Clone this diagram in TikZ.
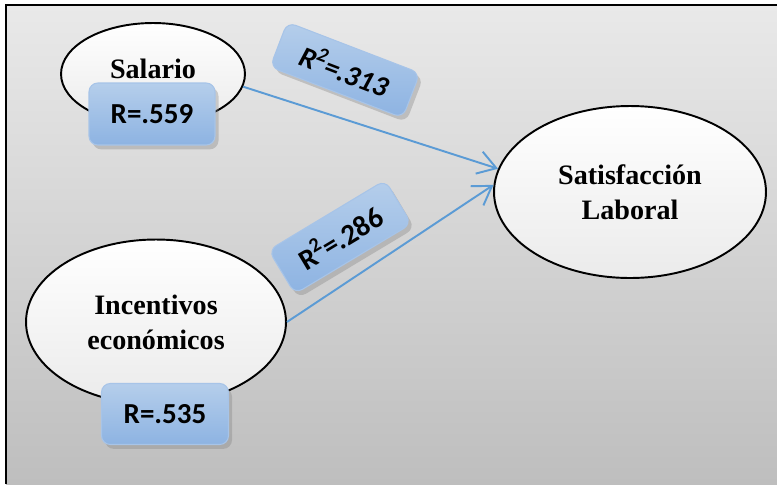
\documentclass[tikz,border=0pt]{standalone}
\usepackage{fontspec}
\setmainfont{Liberation Serif}
\newfontfamily\calibri{Carlito}
\usetikzlibrary{shapes.geometric,arrows.meta,shadows}

\definecolor{boxtop}{HTML}{B5CEEB}
\definecolor{boxbot}{HTML}{8DB3E2}
\definecolor{boxline}{HTML}{A7C4E8}
\definecolor{arrowblue}{HTML}{5B9BD5}
\definecolor{bgtop}{HTML}{E9E9E9}
\definecolor{bgbot}{HTML}{BEBEBE}

\tikzset{
  var/.style={ellipse,draw,line width=1.1pt,inner sep=0pt,align=center,
    top color=white,bottom color=black!8,
    font=\fontsize{16}{20}\selectfont\bfseries},
  coef/.style={rectangle,rounded corners=5pt,draw=boxline,line width=.6pt,
    top color=boxtop,bottom color=boxbot,inner sep=0pt,
    drop shadow={opacity=.35,shadow xshift=2pt,shadow yshift=-2.5pt},
    font=\calibri\fontsize{16.5}{20}\selectfont\bfseries}
}
\newcommand{\rsq}{R\textsuperscript{\kern-.5pt 2}}

\begin{document}
\begin{tikzpicture}[x=0.02cm,y=-0.02cm]

      \useasboundingbox (0,0) rectangle (777,484);
      \shade[top color=bgtop,bottom color=bgbot] (6,5) rectangle (777,484);
      \draw[line width=1.2pt] (6,484) -- (6,5) -- (777,5);

      \begin{scope}[every node/.style={var}]
        \node[minimum width=3.68cm,minimum height=2.04cm,text depth=.22cm] (sal) at (153,74)  {Salario};
        \node[minimum width=5.2cm,minimum height=3.3cm]   (inc) at (156,322) {Incentivos\\econ\'omicos};
        \node[minimum width=5.44cm,minimum height=3.44cm] (sat) at (630,192) {Satisfacci\'on\\Laboral};
      \end{scope}

      \begin{scope}[every edge/.style={draw,arrowblue,line width=1.1pt,
          -{Straight Barb[length=3.6mm,width=4.6mm,line width=1.1pt]}}]
        \path (sal.-8)  edge (sat.170);
        \path (inc.east) edge (sat.177);
      \end{scope}

      \begin{scope}[every node/.style={coef}]
        \node[minimum width=2.52cm,minimum height=1.24cm] (r559) at (152,114) {R=.559};
        \node[minimum width=2.54cm,minimum height=1.22cm] (r535) at (165,414) {R=.535};
        \node[minimum width=2.84cm,minimum height=.96cm,rotate=-21] (r313) at (345,70)
          {\itshape\rsq=.313};
        \node[minimum width=2.72cm,minimum height=1.02cm,rotate=31] (r286) at (340,237) {\rsq=.286};
      \end{scope}

    \end{tikzpicture}
\end{document}
